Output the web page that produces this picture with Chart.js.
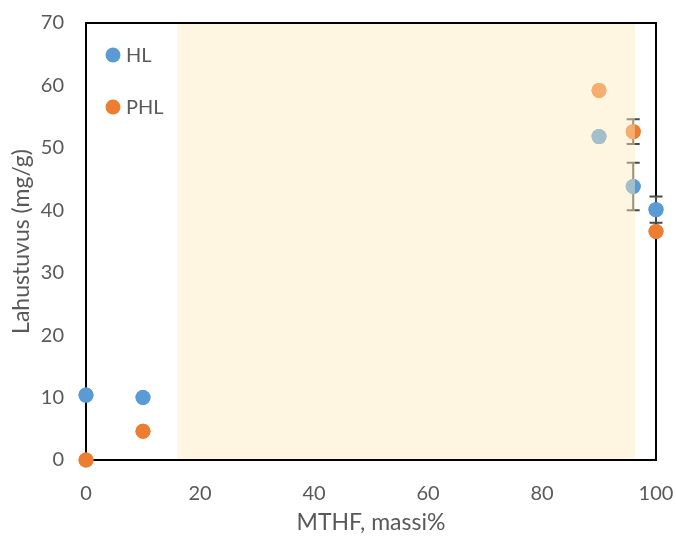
<!DOCTYPE html>
<html>
<head>
<meta charset="utf-8">
<script src="https://cdn.jsdelivr.net/npm/chart.js@4.4.0/dist/chart.umd.min.js"></script>
<style>
  html, body { margin: 0; padding: 0; background: #fff; }
  #wrap { width: 676px; height: 543px; }
</style>
</head>
<body>
<div id="wrap"><canvas id="myChart"></canvas></div>
<script>
// values
var massi = [0, 10, 90, 96, 100];
var hl = [10.4, 10.0, 51.8, 43.8, 40.1];
var phl = [0, 4.6, 59.2, 52.6, 36.6];
var hlErr = [0, 0, 0, 3.8, 2.1];
var phlErr = [0, 0, 0, 2.0, 0];
var band = [16, 96.3];
var xTicks = [0, 20, 40, 60, 80, 100];
var yTicks = [0, 10, 20, 30, 40, 50, 60, 70];

var sininen = '#5B9BD5';
var oranssi = '#ED7D31';
var harmaa = '#595959';
var fontti = 'Lato, "Open Sans", sans-serif';

function pisteet(ys) {
    var out = [];
    for (var i = 0; i < massi.length; i++) out.push({ x: massi[i], y: ys[i] });
    return out;
}

var kehys = {
    id: 'kehys',
    beforeDatasetsDraw: function (chart) {
        var a = chart.chartArea, c = chart.ctx;
        c.save();
        c.strokeStyle = '#000';
        c.lineWidth = 2;
        c.strokeRect(a.left, a.top, a.right - a.left, a.bottom - a.top);
        c.restore();
    }
};

var virheet = {
    id: 'virheet',
    afterDatasetsDraw: function (chart) {
        var c = chart.ctx, xs = chart.scales.x, ys = chart.scales.y;
        var sets = [[hl, hlErr], [phl, phlErr]];
        c.save();
        c.strokeStyle = '#4a4a4a';
        c.lineWidth = 2;
        sets.forEach(function (s) {
            for (var i = 0; i < massi.length; i++) {
                if (!s[1][i]) continue;
                var px = xs.getPixelForValue(massi[i]);
                var y1 = ys.getPixelForValue(s[0][i] + s[1][i]);
                var y2 = ys.getPixelForValue(s[0][i] - s[1][i]);
                c.beginPath();
                c.moveTo(px, y1); c.lineTo(px, y2);
                c.moveTo(px - 6.5, y1); c.lineTo(px + 6.5, y1);
                c.moveTo(px - 6.5, y2); c.lineTo(px + 6.5, y2);
                c.stroke();
            }
        });
        // redraw points on top of the error bars
        chart.getSortedVisibleDatasetMetas().forEach(function (m) {
            m.data.forEach(function (p) { p.draw(c, chart.chartArea); });
        });
        // shaded band drawn over the marks
        var a = chart.chartArea;
        var bx1 = xs.getPixelForValue(band[0]);
        var bx2 = xs.getPixelForValue(band[1]);
        c.fillStyle = 'rgba(255, 234, 188, 0.45)';
        c.fillRect(bx1, a.top + 1, bx2 - bx1, a.bottom - a.top - 2);
        c.restore();
    }
};

var selite = {
    id: 'selite',
    afterDraw: function (chart) {
        var c = chart.ctx, a = chart.chartArea;
        var rivit = [['HL', sininen, 55], ['PHL', oranssi, 107]];
        c.save();
        c.font = '20px ' + fontti;
        c.textBaseline = 'middle';
        rivit.forEach(function (r) {
            c.fillStyle = r[1];
            c.beginPath();
            c.arc(a.left + 27, r[2], 7.5, 0, Math.PI * 2);
            c.fill();
            c.fillStyle = harmaa;
            c.fillText(r[0], a.left + 40, r[2] + 1);
        });
        c.restore();
    }
};

const ctx = document.getElementById('myChart').getContext('2d');
const myChart = new Chart(ctx, {
    type: 'scatter',
    data: {
        datasets: [{
            label: 'HL',
            data: pisteet(hl),
            backgroundColor: sininen,
            borderWidth: 0,
            pointRadius: 7.5,
            clip: false
        }, {
            label: 'PHL',
            data: pisteet(phl),
            backgroundColor: oranssi,
            borderWidth: 0,
            pointRadius: 7.5,
            clip: false
        }]
    },
    options: {
        responsive: true,
        maintainAspectRatio: false,
        animation: false,
        layout: { padding: { left: 0, right: 20, top: 23, bottom: 0 } },
        plugins: {
            legend: { display: false },
            tooltip: { enabled: false }
        },
        scales: {
            x: {
                type: 'linear',
                min: 0, max: 100,
                grid: { display: false },
                border: { display: false },
                afterBuildTicks: function (s) { s.ticks = xTicks.map(function (v) { return { value: v }; }); },
                afterFit: function (s) { s.height = 83; s.paddingLeft = 0; s.paddingRight = 0; },
                ticks: { color: harmaa, padding: 14, font: { size: 20, family: fontti } },
                title: { display: true, text: 'MTHF, massi%', color: harmaa, padding: { top: 0, bottom: 7 }, font: { size: 23, family: fontti } }
            },
            y: {
                type: 'linear',
                min: 0, max: 70,
                grid: { display: false },
                border: { display: false },
                afterBuildTicks: function (s) { s.ticks = yTicks.map(function (v) { return { value: v }; }); },
                afterFit: function (s) { s.width = 86; s.paddingTop = 0; s.paddingBottom = 0; },
                ticks: { color: harmaa, padding: 14, font: { size: 20, family: fontti } },
                title: { display: true, text: 'Lahustuvus (mg/g)', color: harmaa, padding: { top: 8, bottom: 0 }, font: { size: 23, family: fontti } }
            }
        }
    },
    plugins: [kehys, virheet, selite]
});
</script>
</body>
</html>
